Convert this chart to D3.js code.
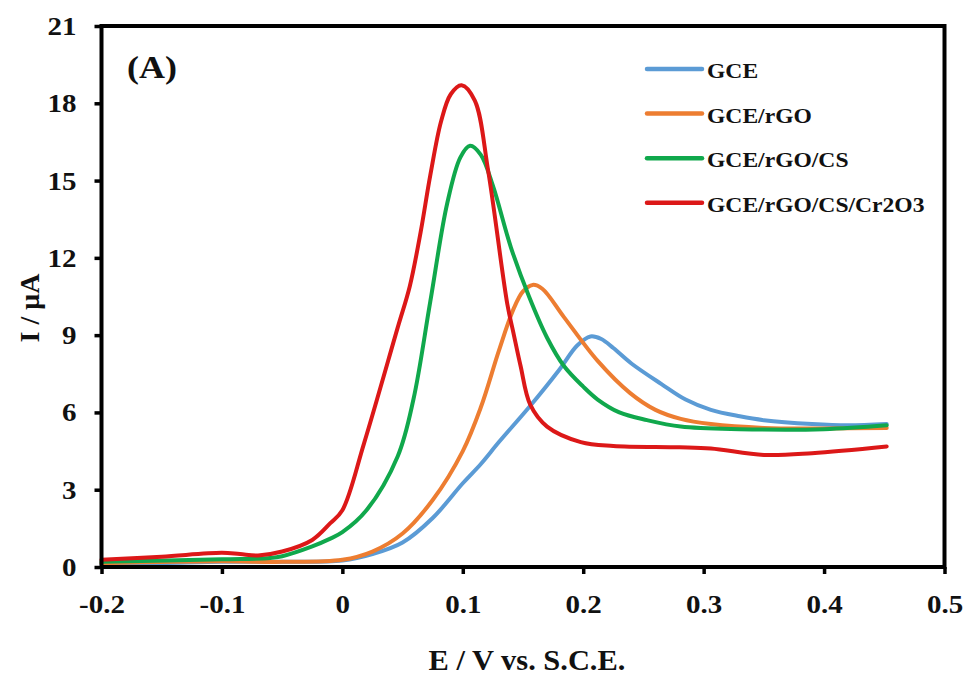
<!DOCTYPE html>
<meta charset="utf-8">
<style>
body { margin: 0; background: #fff; }
svg text { font-family: "Liberation Serif", "Times New Roman", serif; font-weight: bold; fill: #111; }
.curve { fill: none; stroke-width: 4; stroke-linejoin: round; stroke-linecap: round; }
</style>

<svg width="971" height="676"></svg>

<script src="https://d3js.org/d3.v7.min.js"></script>
<script>

// tick values and labels
var xTicks = [-0.2, -0.1, 0, 0.1, 0.2, 0.3, 0.4, 0.5],
    xTickLabels = ["-0.2", "-0.1", "0", "0.1", "0.2", "0.3", "0.4", "0.5"],
    yTicks = [0, 3, 6, 9, 12, 15, 18, 21];

var seriesNames = ["GCE", "GCE/rGO", "GCE/rGO/CS", "GCE/rGO/CS/Cr2O3"],
    seriesColors = ["#5b9bd5", "#ed7d31", "#10a84c", "#dc1818"];

// [E (V), I (uA)]
var gce = [[-0.2,0.12],[-0.15,0.15],[-0.1,0.2],[-0.05,0.2],[0,0.25],[0.025,0.5],[0.05,0.95],
  [0.075,1.9],[0.1,3.25],[0.115,4.0],[0.13,4.85],[0.155,6.2],[0.18,7.65],[0.195,8.6],[0.206,8.95],
  [0.215,8.85],[0.225,8.5],[0.24,7.9],[0.265,7.1],[0.285,6.5],[0.306,6.1],[0.33,5.85],
  [0.35,5.7],[0.39,5.55],[0.42,5.5],[0.452,5.55]];

var gceRgo = [[-0.2,0.15],[-0.1,0.22],[-0.05,0.2],[0,0.28],[0.025,0.6],[0.05,1.3],[0.075,2.6],
  [0.1,4.5],[0.115,6.2],[0.13,8.4],[0.142,10.0],[0.15,10.7],[0.158,10.95],[0.166,10.8],[0.184,9.7],
  [0.212,8.0],[0.239,6.75],[0.26,6.1],[0.281,5.75],[0.306,5.55],[0.35,5.4],[0.4,5.38],[0.452,5.4]];

var gceRgoCs = [[-0.2,0.2],[-0.1,0.3],[-0.06,0.35],[-0.05,0.42],[-0.025,0.8],[-0.01,1.1],[0,1.35],
  [0.02,2.2],[0.046,4.3],[0.059,6.5],[0.073,10.3],[0.087,14.1],[0.098,15.9],[0.106,16.35],
  [0.115,16.0],[0.125,14.8],[0.14,12.4],[0.155,10.5],[0.17,8.9],[0.184,7.8],[0.2,7.0],[0.212,6.5],
  [0.23,6.0],[0.253,5.7],[0.281,5.45],[0.33,5.35],[0.4,5.35],[0.452,5.5]];

var gceRgoCsCr = [[-0.2,0.28],[-0.15,0.4],[-0.1,0.55],[-0.085,0.5],[-0.07,0.45],[-0.05,0.6],
  [-0.025,1.05],[-0.01,1.7],[0,2.2],[0.018,4.8],[0.046,9.3],[0.056,10.9],[0.065,13.0],[0.073,15.2],
  [0.082,17.3],[0.09,18.35],[0.099,18.7],[0.11,18.1],[0.121,15.4],[0.137,10.2],[0.142,9.1],
  [0.148,7.8],[0.156,6.3],[0.17,5.45],[0.198,4.85],[0.225,4.7],[0.28,4.65],[0.306,4.6],
  [0.35,4.35],[0.39,4.42],[0.452,4.68]];

var allSeries = [gce, gceRgo, gceRgoCs, gceRgoCsCr];

var svg = d3.select("svg"),
    stretch = 1.16; // the source picture is a bit wider than tall

var plotLeft = 101.5, plotRight = 944.5, plotTop = 26, plotBottom = 567;

var x = d3.scaleLinear().domain([-0.2, 0.5]).range([plotLeft, plotRight]);
var y = d3.scaleLinear().domain([0, 21]).range([plotBottom, plotTop]);

var line = d3.line()
    .x(d => x(d[0]))
    .y(d => y(d[1]))
    .curve(d3.curveCatmullRom.alpha(0.5));

// axes
var xAxis = svg.append("g")
    .attr("transform", "translate(0," + plotBottom + ")")
    .call(d3.axisBottom(x).tickValues(xTicks).tickSize(7)
      .tickFormat((d, i) => xTickLabels[i]));

xAxis.selectAll("text")
    .attr("y", 46).attr("dy", 0)
    .attr("transform", "scale(" + stretch + ",1)")
    .style("font-size", "25px");

var yAxis = svg.append("g")
    .attr("transform", "translate(" + plotLeft + ",0)")
    .call(d3.axisLeft(y).tickValues(yTicks).tickSize(7));

yAxis.selectAll("text")
    .attr("x", -25 / stretch)
    .attr("dy", "0.34em")
    .attr("transform", "scale(" + stretch + ",1)")
    .style("font-size", "25px");

svg.selectAll(".domain").remove();
svg.selectAll(".tick line").attr("stroke", "#000").attr("stroke-width", 3.5);

// curves
svg.append("g")
  .selectAll("path")
  .data(allSeries)
  .enter()
  .append("path")
    .attr("class", "curve")
    .attr("stroke", (d, i) => seriesColors[i])
    .attr("d", line);

// frame
svg.append("rect")
    .attr("x", plotLeft).attr("y", plotTop)
    .attr("width", plotRight - plotLeft).attr("height", plotBottom - plotTop)
    .attr("fill", "none")
    .attr("stroke", "#000")
    .attr("stroke-width", 4);

// panel tag
svg.append("text")
    .attr("transform", "translate(127,78) scale(" + stretch + ",1)")
    .style("font-size", "31px")
    .text("(A)");

// legend
var legend = svg.append("g")
  .selectAll("g")
  .data(seriesNames)
  .enter()
  .append("g")
    .attr("transform", (d, i) => "translate(647," + (69 + i * 44.6) + ")");

legend.append("line")
    .attr("x1", 0).attr("x2", 55)
    .attr("stroke", (d, i) => seriesColors[i])
    .attr("stroke-width", 4.5)
    .attr("stroke-linecap", "round");

legend.append("text")
    .attr("transform", "translate(60,9) scale(1.18,1)")
    .style("font-size", "20px")
    .text(d => d);

// axis titles
svg.append("text")
    .attr("transform", "translate(527,670) scale(1.05,1)")
    .attr("text-anchor", "middle")
    .style("font-size", "29px")
    .text("E / V vs. S.C.E.");

svg.append("text")
    .attr("transform", "translate(39,308) rotate(-90)")
    .attr("text-anchor", "middle")
    .style("font-size", "28px")
    .text("I / μA");

</script>
